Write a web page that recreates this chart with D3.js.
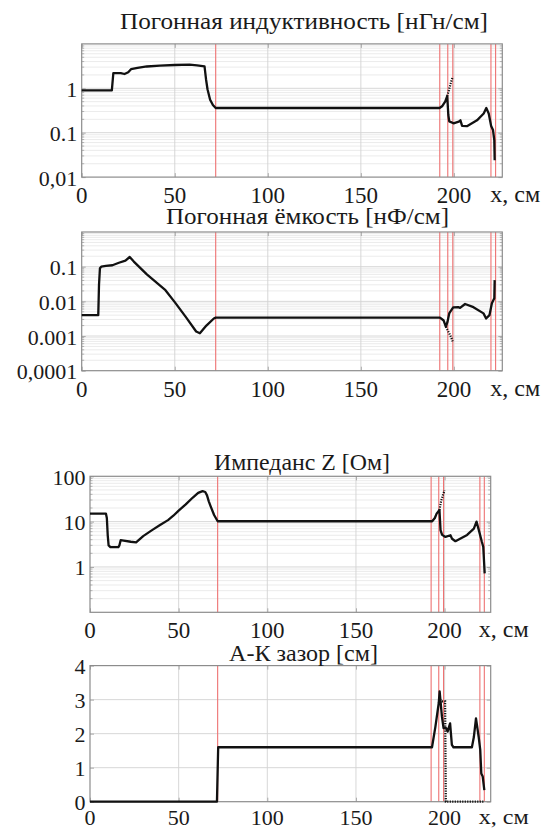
<!DOCTYPE html>
<html><head><meta charset="utf-8">
<script src="https://cdn.jsdelivr.net/npm/d3@7"></script>
<style>body{margin:0;background:#fff}</style>
</head><body><svg id="c" width="547" height="829"></svg>
<script>
// ---------- data ----------
const xTicks = [0, 50, 100, 150, 200];
const xDomain = [0, 226];
const redLinesX = [72, 192.4, 196.7, 199.4, 219.9, 222.4];
const titles = ["Погонная индуктивность [нГн/см]", "Погонная ёмкость [нФ/см]", "Импеданс Z [Ом]", "А-К зазор [см]"];
const xAxisLabel = "x, см";

// Inductance [nH/cm]
const L_x = [0,16.2,17.0,21,23,25,26.5,30,35,42,50,58,62,66,66.8,67.6,69,70.5,72,192.3,193.8,195.3,196.4,197,197.5,199.8,202.6,203.5,204.4,207,212.4,216,217.4,218.7,220,221,221.7,221.9];
const L_v = [0.9,0.9,2.2,2.2,2.1,2.3,2.7,2.9,3.1,3.25,3.35,3.4,3.3,3.1,1.6,0.95,0.55,0.42,0.36,0.36,0.4,0.5,0.67,0.25,0.18,0.163,0.177,0.19,0.142,0.14,0.19,0.27,0.36,0.27,0.142,0.115,0.068,0.024];
const Ld_x = [196.4,197.3,198.3,199.3];
const Ld_v = [0.67,0.9,1.3,1.8];

// Capacitance [nF/cm]
const C_x = [0,8.9,9.3,9.8,10.5,13,16.5,20,23.5,25.8,28,35,45,50,56,61.5,63.5,67,71,72,192.5,194.5,195.7,196.5,197.5,198,199.6,202.3,203.3,206,210.5,215.9,217.3,219.1,220.4,221.7,221.9];
const C_v = [0.004,0.004,0.03,0.09,0.1,0.105,0.11,0.13,0.15,0.19,0.14,0.06,0.021,0.0095,0.0035,0.00135,0.0012,0.002,0.0032,0.0034,0.0034,0.0028,0.00185,0.0025,0.0045,0.005,0.0067,0.0068,0.0065,0.0084,0.0068,0.0045,0.0032,0.004,0.0088,0.0122,0.041];
const Cd_x = [195.7,196.8,197.8,198.6,199.3];
const Cd_v = [0.00185,0.0014,0.0011,0.0009,0.0007];

// Impedance Z [Ohm]
const Z_x = [0,9,9.5,10,10.5,11.5,16,16.6,17.3,19,23,26,30,35,39.5,44,47,50,54,58,61,63.5,65,66,67,68,70,72,193,194.5,195.5,197.1,197.7,198.6,200.5,203.3,204.2,206.1,212.7,216.5,218,219.3,221,221.8,222.6];
const Z_v = [15,15,12,5,3,2.75,2.75,3.0,3.9,3.8,3.6,3.5,4.8,6.5,8.4,10.8,13.5,17.5,24,34,43,47,45,38,28,22,14,10.2,10.2,12,15,18,6.5,5.1,4.6,5.0,4.2,3.7,5.1,7.0,10,6.5,3.6,2.8,0.72];
const Zd_x = [197.1,198,199,200];
const Zd_v = [18,28,38,49];

// A-K gap [cm]
const G_x = [0,71.6,72.3,192.9,194.8,196.7,197.2,198.5,199.4,200.9,201.7,203.1,204.1,205,215.4,216.5,217.7,219.2,220.1,220.7,221.5,222.4];
const G_v = [0,0,1.6,1.6,2.2,2.9,3.24,2.5,2.16,2.16,2.06,2.3,1.67,1.6,1.6,1.9,2.45,1.91,1.52,0.83,0.74,0.34];
const Gd_x = [197.4,198.5,200.3,200.7,222.4];
const Gd_v = [3.0,2.95,2.95,0,0];

const yTicks = [[0.01,0.1,1],[0.0001,0.001,0.01,0.1],[1,10,100],[0,1,2,3,4]];
const yTickLabels = [["0,01","0.1","1"],["0,0001","0.001","0.01","0.1"],["1","10","100"],["0","1","2","3","4"]];
const yDomains = [[0.01,10],[0.0001,1],[0.1,100],[0,4]];

// ---------- layout ----------
const panels = [
  {left:81.7,right:502.3,top:43.9,bottom:177.1,log:true,title:[120,488,29],xlab:26,xfs:23,sx:L_x,sv:L_v,dx:Ld_x,dv:Ld_v},
  {left:81.7,right:502.3,top:232,bottom:370.7,log:true,title:[166,449,223.5],xlab:26,xfs:23,sx:C_x,sv:C_v,dx:Cd_x,dv:Cd_v},
  {left:90,right:490.7,top:476.3,bottom:612.3,log:true,title:[214,390,470],xlab:26,xfs:23,sx:Z_x,sv:Z_v,dx:Zd_x,dv:Zd_v},
  {left:90,right:490.7,top:665.6,bottom:801.7,log:false,title:[229,378,661],xlab:23,xfs:22,sx:G_x,sv:G_v,dx:Gd_x,dv:Gd_v}
];

const svg = d3.select("#c");
const labelsLayer = [];

panels.forEach((p,i)=>{
  const x = d3.scaleLinear().domain(xDomain).range([p.left,p.right]);
  const y = p.log ? d3.scaleLog().domain(yDomains[i]).range([p.bottom,p.top])
                  : d3.scaleLinear().domain(yDomains[i]).range([p.bottom,p.top]);
  const g = svg.append("g");

  if (p.log) {
    const [a,b] = yDomains[i].map(Math.log10);
    const minor=[];
    for (let d=Math.round(a); d<Math.round(b); d++) for (let k=2;k<=9;k++) minor.push(k*Math.pow(10,d));
    g.selectAll(null).data(minor).join("line")
      .attr("x1",p.left).attr("x2",p.right).attr("y1",d=>y(d)).attr("y2",d=>y(d))
      .attr("stroke","#e6e6e6").attr("stroke-width",0.8);
    g.selectAll(null).data(minor).join("path")
      .attr("d",d=>`M${p.left},${y(d)}h2.5M${p.right},${y(d)}h-2.5`)
      .attr("stroke","#999").attr("stroke-width",0.7);
  }
  const majY = yTicks[i].filter(v=>y(v)>p.top+0.5 && y(v)<p.bottom-0.5);
  g.selectAll(null).data(majY).join("line")
    .attr("x1",p.left).attr("x2",p.right).attr("y1",d=>y(d)).attr("y2",d=>y(d))
    .attr("stroke","#d2d2d2").attr("stroke-width",0.9);
  const majX = xTicks.filter(v=>v>0);
  g.selectAll(null).data(majX).join("line")
    .attr("x1",d=>x(d)).attr("x2",d=>x(d)).attr("y1",p.top).attr("y2",p.bottom)
    .attr("stroke","#d2d2d2").attr("stroke-width",0.9);

  const axB = d3.axisBottom(x).tickValues(xTicks).tickSize(-4).tickFormat("");
  const axT = d3.axisTop(x).tickValues(xTicks).tickSize(-4).tickFormat("");
  const axL = d3.axisLeft(y).tickValues(yTicks[i]).tickSize(-4).tickFormat("");
  const axR = d3.axisRight(y).tickValues(yTicks[i]).tickSize(-4).tickFormat("");
  [[axB,`translate(0,${p.bottom})`],[axT,`translate(0,${p.top})`],[axL,`translate(${p.left},0)`],[axR,`translate(${p.right},0)`]]
    .forEach(([ax,tr])=>{
      const a=g.append("g").attr("transform",tr).call(ax);
      a.select(".domain").remove();
      a.selectAll(".tick text").remove();
      a.attr("font-family",null);
      a.selectAll(".tick line").attr("stroke","#999").attr("stroke-width",0.8);
    });

  g.selectAll(null).data(redLinesX).join("line")
    .attr("x1",d=>x(d)).attr("x2",d=>x(d)).attr("y1",p.top).attr("y2",p.bottom)
    .attr("stroke","#ee7272").attr("stroke-width",1.1);

  g.append("rect").attr("x",p.left).attr("y",p.top).attr("width",p.right-p.left).attr("height",p.bottom-p.top)
    .attr("fill","none").attr("stroke","#8c8c8c").attr("stroke-width",1.2);

  const line = d3.line().x(d=>x(d[0])).y(d=>y(d[1]));
  g.append("path").datum(p.dx.map((v,k)=>[v,p.dv[k]]))
    .attr("d",line).attr("fill","none").attr("stroke","#111").attr("stroke-width",2.2)
    .attr("stroke-dasharray","1.2,1.3");
  g.append("path").datum(p.sx.map((v,k)=>[v,p.sv[k]]))
    .attr("d",line).attr("fill","none").attr("stroke","#111").attr("stroke-width",2.3)
    .attr("stroke-linejoin","round");

  yTicks[i].forEach((v,k)=>labelsLayer.push({x:p.left-4.5,y:y(v)+8.5,a:"end",fs:22,t:yTickLabels[i][k]}));
  xTicks.forEach(v=>labelsLayer.push({x:x(v),y:p.bottom+p.xlab,a:"middle",fs:p.xfs,t:String(v)}));
  labelsLayer.push({x:p.right-12,y:p.bottom+p.xlab-1,a:"start",fs:p.xfs,t:xAxisLabel,len:50});
  labelsLayer.push({x:p.title[0],y:p.title[2],a:"start",fs:23,t:titles[i],len:p.title[1]-p.title[0]});
});

svg.selectAll("text.lbl").data(labelsLayer).join("text")
  .attr("class","lbl")
  .attr("x",d=>d.x).attr("y",d=>d.y).attr("text-anchor",d=>d.a)
  .attr("font-size",d=>d.fs).attr("fill","#1a1a1a")
  .attr("font-family","Times New Roman")
  .style("font-family",'"Times New Roman", "Liberation Serif", Tinos')
  .attr("textLength",d=>d.len||null).attr("lengthAdjust",d=>d.len?"spacingAndGlyphs":null)
  .text(d=>d.t);
</script></body></html>
